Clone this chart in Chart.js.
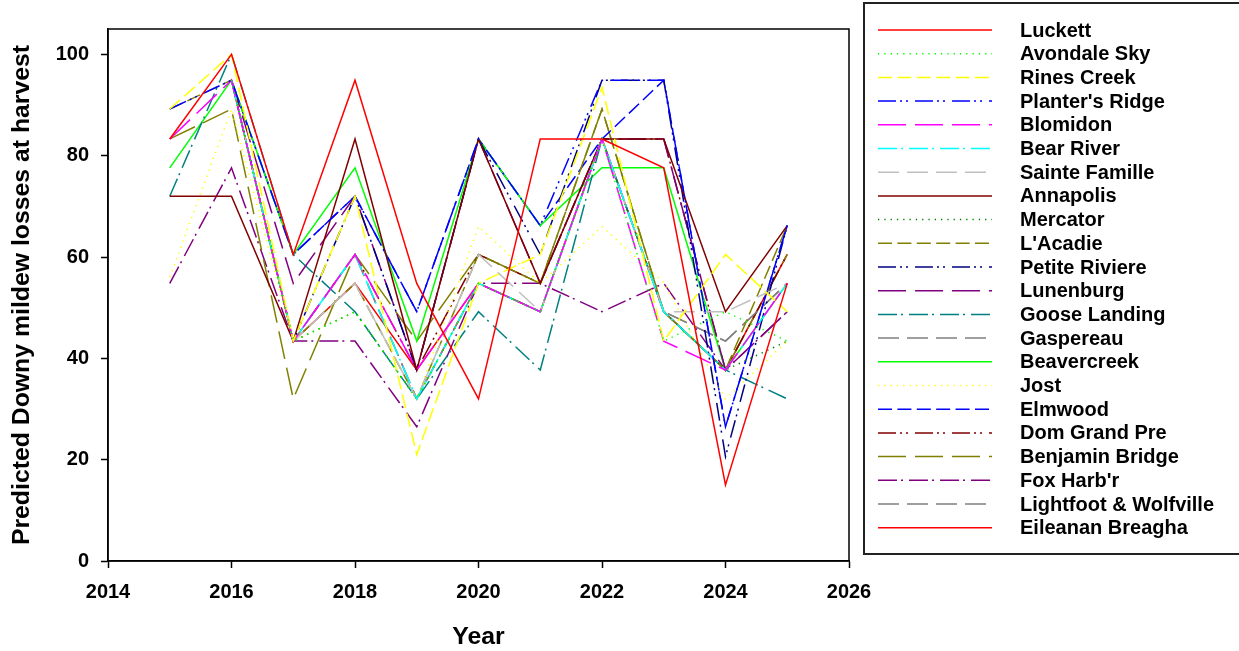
<!DOCTYPE html>
<html>
<head>
<meta charset="utf-8">
<script src="https://cdn.jsdelivr.net/npm/chart.js@4"></script>
<style>
  body { margin: 0; background: #fff; }
  #wrap { width: 1239px; height: 651px; position: relative; }
</style>
</head>
<body>
<div id="wrap"><canvas id="grafico"></canvas></div>
<script>
// datos
const years = [2015, 2016, 2017, 2018, 2019, 2020, 2021, 2022, 2023, 2024, 2025];
const xTicks = [2014, 2016, 2018, 2020, 2022, 2024, 2026];
const yTicks = [0, 20, 40, 60, 80, 100];

const luckett      = [83.3, 100, 60.5, 94.9, 54.8, 32, 83.3, 83.3, 77.6, 15, 54.8];
const avondaleSky  = [null, 94.9, 43.4, 49.2, 32, 54.8, 49.2, 83.3, 43.4, 49.2, 43.4];
const rinesCreek   = [89.2, 100, 43.4, 72, 21, 54.8, 60.5, 93.5, 43.4, 60.5, 49.2];
const plantersRidge = [89.2, 94.9, 60.5, 72, 49.2, 83.3, 66.2, 94.9, 94.9, 26.5, 66.2];
const blomidon     = [83.3, 94.9, 43.4, 60.5, 37.7, 54.8, 49.2, 83.3, 43.4, 37.7, 54.8];
const bearRiver    = [null, 94.9, 43.4, 60.5, 32, 54.8, 49.2, 83.3, 49.2, 37.7, 54.8];
const sainteFamille = [null, 94.9, 43.4, 54.8, 32, 60.5, 49.2, 83.3, 49.2, 49.2, 54.8];
const annapolis    = [72, 72, 43.4, 83.3, 37.7, 83.3, 54.8, 83.3, 83.3, 49.2, 66.2];
const mercator     = [null, 94.9, 43.4, 49.2, 32, 54.8, 49.2, 83.3, 49.2, 37.7, 43.4];
const lAcadie      = [89.2, 94.9, 43.4, 54.8, 32, 60.5, 54.8, 89.2, 49.2, 37.7, 66.2];
const petiteRiviere = [null, 94.9, 43.4, 72, 37.7, 83.3, 60.5, 94.9, 94.9, 20.6, 66.2];
const lunenburg    = [null, 94.9, 54.8, 72, 37.7, 83.3, 54.8, 83.3, 83.3, 37.7, 49.2];
const gooseLanding = [72, 100, 60.5, 49.2, 32, 49.2, 37.7, 83.3, 49.2, 37.7, 32];
const gaspereau    = [null, 94.9, 43.4, 60.5, 32, 54.8, 49.2, 83.3, 49.2, 43.4, 54.8];
const beavercreek  = [77.6, 94.9, 60.5, 77.6, 43.4, 83.3, 66.2, 77.6, 77.6, 37.7, 54.8];
const jost         = [56, 89.2, 43.4, 49.2, 32, 66, 54.8, 66, 55, 32, 43.4];
const elmwood      = [null, 94.9, 60.5, 72, 49.2, 83.3, 66.2, 83.3, 94.9, 26.5, 66.2];
const domGrandPre  = [null, 94.9, 43.4, 60.5, 37.7, 60.5, 54.8, 83.3, 83.3, 37.7, 60.5];
const benjaminBridge = [83.3, 89.2, 32, 60.5, 43.4, 60.5, 54.8, 89.2, 49.2, 37.7, 60.5];
const foxHarbr     = [54.8, 77.6, 43.4, 43.4, 26.5, 54.8, 54.8, 49.2, 54.8, 37.7, 49.2];
const lightfoot    = [null, 94.9, 43.4, 60.5, 32, 54.8, 49.2, 83.3, 49.2, 43.4, 54.8];
const eileanan     = [null, 94.9, 43.4, 54.8, 37.7, 54.8, 49.2, 83.3, 49.2, 37.7, 60.5];

// estilos de linea
const SOLIDA = [];
const PUNTOS = [1.3, 5];
const GUION = [14, 5.4];
const GUION_PP = [18, 4, 2, 4, 2, 7];
const LARGO = [28, 9];
const GUION_P = [19, 4, 2, 6];
const GUION_M = [21, 8];

const series = [
    ['Luckett', luckett, '#ff0000', SOLIDA],
    ['Avondale Sky', avondaleSky, '#00ff00', PUNTOS],
    ['Rines Creek', rinesCreek, '#ffff00', GUION],
    ["Planter's Ridge", plantersRidge, '#0000ff', GUION_PP],
    ['Blomidon', blomidon, '#ff00ff', LARGO],
    ['Bear River', bearRiver, '#00ffff', GUION_P],
    ['Sainte Famille', sainteFamille, '#c0c0c0', GUION_M],
    ['Annapolis', annapolis, '#800000', SOLIDA],
    ['Mercator', mercator, '#008000', PUNTOS],
    ["L'Acadie", lAcadie, '#808000', GUION],
    ['Petite Riviere', petiteRiviere, '#000080', GUION_PP],
    ['Lunenburg', lunenburg, '#800080', LARGO],
    ['Goose Landing', gooseLanding, '#008080', GUION_P],
    ['Gaspereau', gaspereau, '#808080', GUION_M],
    ['Beavercreek', beavercreek, '#00ff00', SOLIDA],
    ['Jost', jost, '#ffff00', PUNTOS],
    ['Elmwood', elmwood, '#0000ff', GUION],
    ['Dom Grand Pre', domGrandPre, '#800000', GUION_PP],
    ['Benjamin Bridge', benjaminBridge, '#808000', LARGO],
    ["Fox Harb'r", foxHarbr, '#800080', GUION_P],
    ['Lightfoot & Wolfville', lightfoot, '#808080', GUION_M],
    ['Eileanan Breagha', eileanan, '#ff0000', SOLIDA]
];

const fuente = '"Liberation Sans", Arial, sans-serif';

// marco del area y leyenda en caja
const marcoYLeyenda = {
    id: 'marcoYLeyenda',
    afterDraw(chart) {
        const ctx = chart.ctx;
        const a = chart.chartArea;
        ctx.save();
        ctx.strokeStyle = '#000';
        ctx.lineWidth = 1.5;
        ctx.strokeRect(a.left, a.top, a.right - a.left, a.bottom - a.top);

        ctx.strokeStyle = '#222';
        ctx.lineWidth = 2;
        ctx.strokeRect(864, 3, 420, 551);

        ctx.font = 'bold 20px ' + fuente;
        ctx.textBaseline = 'middle';
        ctx.fillStyle = '#000';
        chart.data.datasets.forEach(function (ds, i) {
            const y = 30 + i * 23.7;
            ctx.beginPath();
            ctx.strokeStyle = ds.borderColor;
            ctx.lineWidth = 1.5;
            ctx.setLineDash(ds.borderDash);
            ctx.moveTo(878, y);
            ctx.lineTo(992, y);
            ctx.stroke();
            ctx.setLineDash([]);
            ctx.fillText(ds.label, 1020, y + 1);
        });
        ctx.restore();
    }
};

const ctx = document.getElementById('grafico').getContext('2d');
new Chart(ctx, {
    type: 'line',
    data: {
        datasets: series.map(function (s) {
            return {
                label: s[0],
                data: years.map((yr, i) => ({ x: yr, y: s[1][i] })),
                borderColor: s[2],
                borderDash: s[3],
                borderWidth: 1.5,
                pointRadius: 0,
                fill: false,
                tension: 0,
                spanGaps: false
            };
        })
    },
    options: {
        responsive: true,
        maintainAspectRatio: false,
        animation: false,
        devicePixelRatio: 1,
        layout: { padding: { left: 0, top: 29, right: 390, bottom: 0 } },
        plugins: {
            legend: { display: false },
            tooltip: { enabled: false }
        },
        scales: {
            x: {
                type: 'linear',
                min: 2014,
                max: 2026,
                afterFit: function (scale) { scale.height = 90; },
                afterBuildTicks: function (scale) { scale.ticks = xTicks.map(v => ({ value: v })); },
                grid: { drawOnChartArea: false, drawTicks: true, tickLength: 7, color: '#000', tickWidth: 1.5 },
                border: { display: true, color: '#000', width: 1.5 },
                ticks: {
                    color: '#000',
                    padding: 12,
                    maxRotation: 0,
                    font: { family: fuente, size: 20, weight: 'bold' },
                    callback: v => String(v)
                },
                title: {
                    display: true,
                    text: 'Year',
                    color: '#000',
                    padding: { top: 0, bottom: 0 },
                    font: { family: fuente, size: 24.8, weight: 'bold', lineHeight: 1.1 }
                }
            },
            y: {
                min: 0,
                max: 105,
                afterFit: function (scale) { scale.width = 108; },
                afterBuildTicks: function (scale) { scale.ticks = yTicks.map(v => ({ value: v })); },
                grid: { drawOnChartArea: false, drawTicks: true, tickLength: 7, color: '#000', tickWidth: 1.5 },
                border: { display: true, color: '#000', width: 1.5 },
                ticks: {
                    color: '#000',
                    padding: 12,
                    font: { family: fuente, size: 20, weight: 'bold' },
                    callback: v => String(v)
                },
                title: {
                    display: true,
                    text: 'Predicted Downy mildew losses at harvest',
                    color: '#000',
                    padding: { top: 9, bottom: 0 },
                    font: { family: fuente, size: 24.8, weight: 'bold', lineHeight: 1.1 }
                }
            }
        }
    },
    plugins: [marcoYLeyenda]
});
</script>
</body>
</html>
